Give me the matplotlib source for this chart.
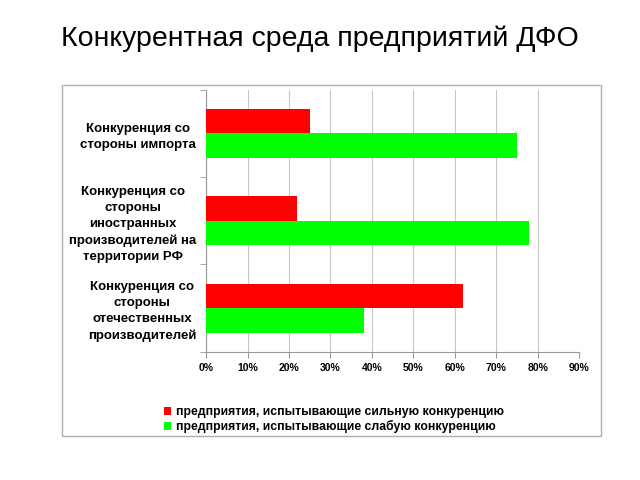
import numpy as np
import matplotlib
matplotlib.use("Agg")
import matplotlib.pyplot as plt
from matplotlib.patches import Rectangle
from matplotlib.ticker import PercentFormatter

plt.rcParams['font.family'] = ['Liberation Sans', 'DejaVu Sans']

# data
categories = [
    "Конкуренция со\nстороны импорта",
    "Конкуренция со\nстороны\nиностранных\nпроизводителей на\nтерритории РФ",
    "Конкуренция со\nстороны\nотечественных\nпроизводителей",
]
strong = [25, 22, 62]
weak = [75, 78, 38]
series_names = [
    "предприятия, испытывающие сильную конкуренцию",
    "предприятия, испытывающие слабую конкуренцию",
]
x_ticks = list(range(0, 100, 10))

fig = plt.figure(figsize=(6.4, 4.8), dpi=100)
fig.text(0.5, 0.92, "Конкурентная среда предприятий ДФО", ha='center', va='center', fontsize=20.5)

# outer chart frame
fig.patches.append(Rectangle((0.097, 0.092), 0.842, 0.731, transform=fig.transFigure,
                             fill=False, edgecolor='#b0b0b0', linewidth=1.0))

ax = fig.add_axes([0.322, 0.267, 0.583, 0.546])
y = np.arange(len(categories))
h = 0.28
ax.barh(y - h / 2, strong, height=h, color='#ff0000', label=series_names[0], zorder=3)
ax.barh(y + h / 2, weak, height=h, color='#00ff00', label=series_names[1], zorder=3)

ax.set_xlim(0, 90)
ax.set_ylim(len(categories) - 0.5, -0.5)
ax.set_xticks(x_ticks)
ax.xaxis.set_major_formatter(PercentFormatter(decimals=0))
ax.grid(axis='x', color='#c8c8c8', linewidth=0.8, zorder=0)

ax.set_yticks(y)
ax.set_yticklabels(categories, fontsize=9.5, fontweight='bold', linespacing=1.45)
for lab in ax.get_yticklabels():
    lab.set_multialignment('center')
ax.set_yticks(np.arange(len(categories) + 1) - 0.5, minor=True)
ax.tick_params(axis='y', which='major', length=0, pad=7)
ax.tick_params(axis='y', which='minor', length=4, color='#999999')
ax.tick_params(axis='x', length=4, color='#999999', labelsize=7.5, pad=4)
for lab in ax.get_xticklabels():
    lab.set_fontweight('bold')

for s in ['top', 'right']:
    ax.spines[s].set_visible(False)
ax.spines['left'].set_color('#999999')
ax.spines['bottom'].set_color('#999999')

fig.legend(loc='upper left', bbox_to_anchor=(0.248, 0.164), frameon=False,
           prop={'size': 8.8, 'weight': 'bold'}, handlelength=0.6, handleheight=0.6,
           handletextpad=0.45, labelspacing=0.15, borderaxespad=0)

fig.savefig("out.png", dpi=100)
